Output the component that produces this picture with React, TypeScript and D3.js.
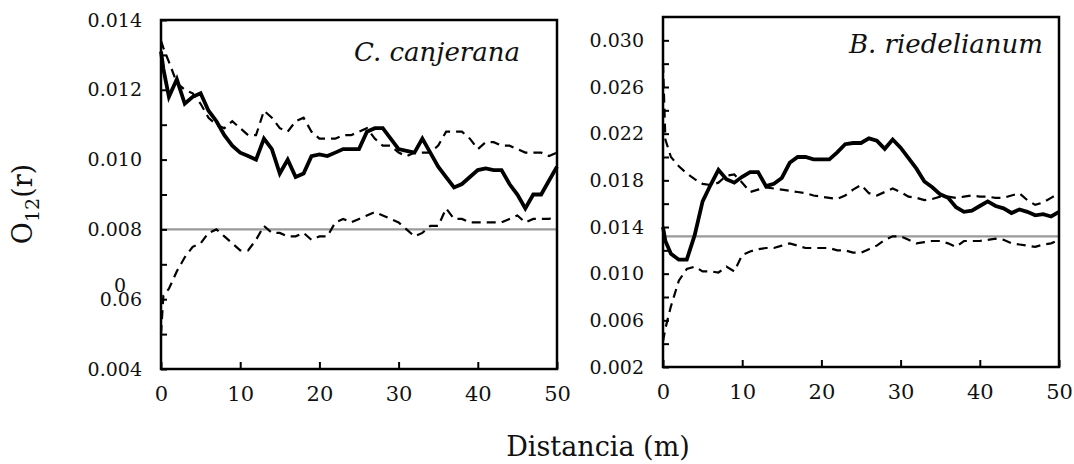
import React, { useRef, useEffect } from "react";
import * as d3 from "d3";

const width = 1074;
const height = 464;
const font = "'DejaVu Serif', serif";

// distance classes (m)
const distances = [
  0, 0.3, 1, 2, 3, 4, 5, 6, 7, 8, 9, 10, 11, 12, 13, 14, 15, 16, 17, 18, 19, 20,
  21, 22, 23, 24, 25, 26, 27, 28, 29, 30, 31, 32, 33, 34, 35, 36, 37, 38, 39, 40,
  41, 42, 43, 44, 45, 46, 47, 48, 49, 50,
];

// C. canjerana
const canjeranaObs = [
  0.0131, 0.0126, 0.0118, 0.0123, 0.0116, 0.0118, 0.0119, 0.0114, 0.0111, 0.0107,
  0.0104, 0.0102, 0.0101, 0.01, 0.0106, 0.0103, 0.0096, 0.01, 0.0095, 0.0096,
  0.0101, 0.01015, 0.0101, 0.0102, 0.0103, 0.0103, 0.0103, 0.0108, 0.0109, 0.0109,
  0.0106, 0.0103, 0.01025, 0.0102, 0.0106, 0.0102, 0.0098, 0.0095, 0.0092, 0.0093,
  0.0095, 0.0097, 0.00975, 0.0097, 0.0097, 0.0093, 0.009, 0.0086, 0.009, 0.009,
  0.0094, 0.0098,
];
const canjeranaHi = [
  0.0134, 0.0132, 0.0128, 0.0122, 0.012, 0.0119, 0.0116, 0.0112, 0.011, 0.0109,
  0.0111, 0.0109, 0.0107, 0.0107, 0.0114, 0.0112, 0.0109, 0.0108, 0.0111, 0.0112,
  0.0108, 0.0106, 0.0106, 0.0106, 0.0107, 0.0107, 0.0108, 0.0109, 0.0106, 0.0104,
  0.0104, 0.0102, 0.0101, 0.0102, 0.0102, 0.0102, 0.0104, 0.0108, 0.0108, 0.0108,
  0.0106, 0.0103, 0.0105, 0.0105, 0.0104, 0.0104, 0.0103, 0.0102, 0.0102, 0.0102,
  0.0101, 0.0102,
];
const canjeranaLo = [
  0.005, 0.0061, 0.0063, 0.0068, 0.0072, 0.0075, 0.0076, 0.0079, 0.008, 0.0078,
  0.0076, 0.0074, 0.0074, 0.0077, 0.0081, 0.0079, 0.0079, 0.0078, 0.0078, 0.0079,
  0.0077, 0.0078, 0.0078, 0.0082, 0.0083, 0.0082, 0.0083, 0.0084, 0.0085, 0.0084,
  0.0083, 0.0082, 0.008, 0.0078, 0.0079, 0.0081, 0.0081, 0.0086, 0.0083, 0.0083,
  0.0082, 0.0082, 0.0082, 0.0082, 0.0082, 0.0083, 0.0084, 0.0082, 0.0083, 0.0083,
  0.0083, 0.0084,
];

// B. riedelianum
const riedelObs = [
  0.014, 0.0128, 0.0117, 0.0112, 0.0112, 0.0133, 0.0162, 0.0176, 0.0189, 0.0181,
  0.0178, 0.0183, 0.0187, 0.0187, 0.0175, 0.0177, 0.0182, 0.0195, 0.02, 0.02,
  0.0198, 0.0198, 0.0198, 0.0204, 0.0211, 0.0212, 0.0212, 0.0216, 0.0214, 0.0207,
  0.0215, 0.0208, 0.0199, 0.019, 0.0179, 0.0174, 0.0168, 0.0165, 0.0157, 0.0153,
  0.0154, 0.0158, 0.0162, 0.0158, 0.0156, 0.0152, 0.0155, 0.0153, 0.015, 0.0151,
  0.0149, 0.0153,
];
const riedelHi = [
  0.028, 0.0215, 0.02, 0.0192, 0.0186, 0.0181, 0.0177, 0.0176, 0.0178, 0.0184,
  0.0185, 0.0178, 0.017, 0.0172, 0.0174, 0.0173, 0.0172, 0.0171, 0.017, 0.0169,
  0.0167, 0.0166, 0.0165, 0.0164, 0.0167, 0.0172, 0.0176, 0.0169, 0.0167, 0.017,
  0.0173, 0.017, 0.0166, 0.0165, 0.0163, 0.0164, 0.0166, 0.0166, 0.0165, 0.0166,
  0.0167, 0.0166, 0.0166, 0.0165, 0.0165, 0.0167, 0.0169, 0.0163, 0.0159, 0.0161,
  0.0165, 0.0169,
];
const riedelLo = [
  0.0042, 0.0053, 0.0072, 0.0094, 0.0104, 0.0106, 0.0102, 0.0102, 0.0101, 0.0106,
  0.0102, 0.0116, 0.0119, 0.0121, 0.0122, 0.0122, 0.0124, 0.0126, 0.0124, 0.0122,
  0.0122, 0.0122, 0.0122, 0.012, 0.012, 0.0118, 0.0118, 0.0121, 0.0124, 0.0129,
  0.0132, 0.0132, 0.0129, 0.0126, 0.0127, 0.0128, 0.0128, 0.0126, 0.0123, 0.0128,
  0.0128, 0.0128, 0.0129, 0.013, 0.0129, 0.0126, 0.0125, 0.0124, 0.0123, 0.0125,
  0.0126, 0.0129,
];

// axis ticks
const xTicks = [0, 10, 20, 30, 40, 50];
const canjeranaYTicks = [0.004, 0.005, 0.006, 0.007, 0.008, 0.009, 0.01, 0.011, 0.012, 0.013, 0.014];
const canjeranaYLabels = ["0.004", "", "0.06", "", "0.008", "", "0.010", "", "0.012", "", "0.014"];
const riedelYTicks = [0.002, 0.004, 0.006, 0.008, 0.01, 0.012, 0.014, 0.016, 0.018, 0.02, 0.022, 0.024, 0.026, 0.028, 0.03];
const riedelYLabels = ["0.002", "", "0.006", "", "0.010", "", "0.014", "", "0.018", "", "0.022", "", "0.026", "", "0.030"];

const panels = [
  {
    name: "C. canjerana",
    obs: canjeranaObs, hi: canjeranaHi, lo: canjeranaLo,
    refValue: 0.008,
    yDomain: [0.004, 0.014],
    yTicks: canjeranaYTicks, yLabels: canjeranaYLabels,
    left: 161, right: 557, top: 20, bottom: 369,
    titleX: 520, titleY: 61,
  },
  {
    name: "B. riedelianum",
    obs: riedelObs, hi: riedelHi, lo: riedelLo,
    refValue: 0.0132,
    yDomain: [0.002, 0.032],
    yTicks: riedelYTicks, yLabels: riedelYLabels,
    left: 663, right: 1059, top: 17, bottom: 367,
    titleX: 1043, titleY: 53,
  },
];

const App = () => {
  const ref = useRef(null);

  useEffect(() => {
    const svg = d3.select(ref.current);
    svg.selectAll("*").remove();

    panels.forEach((p, pi) => {
      const x = d3.scaleLinear().domain([0, 50]).range([p.left, p.right]);
      const y = d3.scaleLinear().domain(p.yDomain).range([p.bottom, p.top]);
      const g = svg.append("g");

      // reference line (expected value)
      g.append("line")
        .attr("x1", x(0)).attr("x2", x(50))
        .attr("y1", y(p.refValue)).attr("y2", y(p.refValue))
        .attr("stroke", "#9a9a9a")
        .attr("stroke-width", 2.4);

      const line = d3
        .line<number>()
        .x((d, i) => x(distances[i]))
        .y(d => y(d));

      // simulation envelopes
      [p.hi, p.lo].forEach(s => {
        g.append("path")
          .attr("d", line(s))
          .attr("fill", "none")
          .attr("stroke", "#000")
          .attr("stroke-width", 2.2)
          .attr("stroke-dasharray", "9,6");
      });

      // observed
      g.append("path")
        .attr("d", line(p.obs))
        .attr("fill", "none")
        .attr("stroke", "#000")
        .attr("stroke-width", 3.8);

      // frame
      g.append("rect")
        .attr("x", p.left).attr("y", p.top)
        .attr("width", p.right - p.left).attr("height", p.bottom - p.top)
        .attr("fill", "none")
        .attr("stroke", "#000")
        .attr("stroke-width", 2.5);

      // y axis
      const yAxis = g.append("g")
        .attr("transform", `translate(${p.left},0)`)
        .call(
          d3.axisLeft(y)
            .tickValues(p.yTicks)
            .tickSizeInner(-6)
            .tickSizeOuter(0)
            .tickPadding(19)
            .tickFormat((d, i) => p.yLabels[i])
        );
      yAxis.select(".domain").remove();
      yAxis.selectAll("line").attr("stroke-width", 2);
      yAxis.selectAll("text").attr("font-family", font).attr("font-size", 19).attr("fill", "#111");

      // x axis
      const xAxis = g.append("g")
        .attr("transform", `translate(0,${p.bottom})`)
        .call(
          d3.axisBottom(x)
            .tickValues(xTicks)
            .tickSizeInner(-7)
            .tickSizeOuter(0)
            .tickPadding(17)
        );
      xAxis.select(".domain").remove();
      xAxis.selectAll("line").attr("stroke-width", 2);
      xAxis.selectAll("text").attr("font-family", font).attr("font-size", 21).attr("fill", "#111");

      // stray digit sitting on the 0.06 label in the original
      if (pi === 0) {
        g.append("text")
          .attr("x", 120).attr("y", y(0.006) - 13)
          .attr("dy", "0.32em")
          .attr("text-anchor", "middle")
          .attr("font-family", font).attr("font-size", 19).attr("fill", "#111")
          .text("0");
      }

      // species name
      g.append("text")
        .attr("x", p.titleX).attr("y", p.titleY)
        .attr("text-anchor", "end")
        .attr("font-family", font)
        .attr("font-style", "italic")
        .attr("font-size", 26)
        .attr("fill", "#111")
        .text(p.name);
    });

    // axis titles
    const yt = svg.append("text")
      .attr("transform", "translate(32,204) rotate(-90)")
      .attr("text-anchor", "middle")
      .attr("font-family", font)
      .attr("font-size", 27)
      .attr("fill", "#111");
    yt.append("tspan").text("O");
    yt.append("tspan").attr("font-size", 19).attr("dy", 7).text("12");
    yt.append("tspan").attr("dy", -7).text("(r)");

    svg.append("text")
      .attr("x", 598).attr("y", 456)
      .attr("text-anchor", "middle")
      .attr("font-family", font)
      .attr("font-size", 27)
      .attr("fill", "#111")
      .text("Distancia (m)");
  }, []);

  return (
    <svg
      ref={ref}
      width={width}
      height={height}
      style={{ position: "absolute", left: 0, top: 0, background: "#fff" }}
    />
  );
};

export default App;
